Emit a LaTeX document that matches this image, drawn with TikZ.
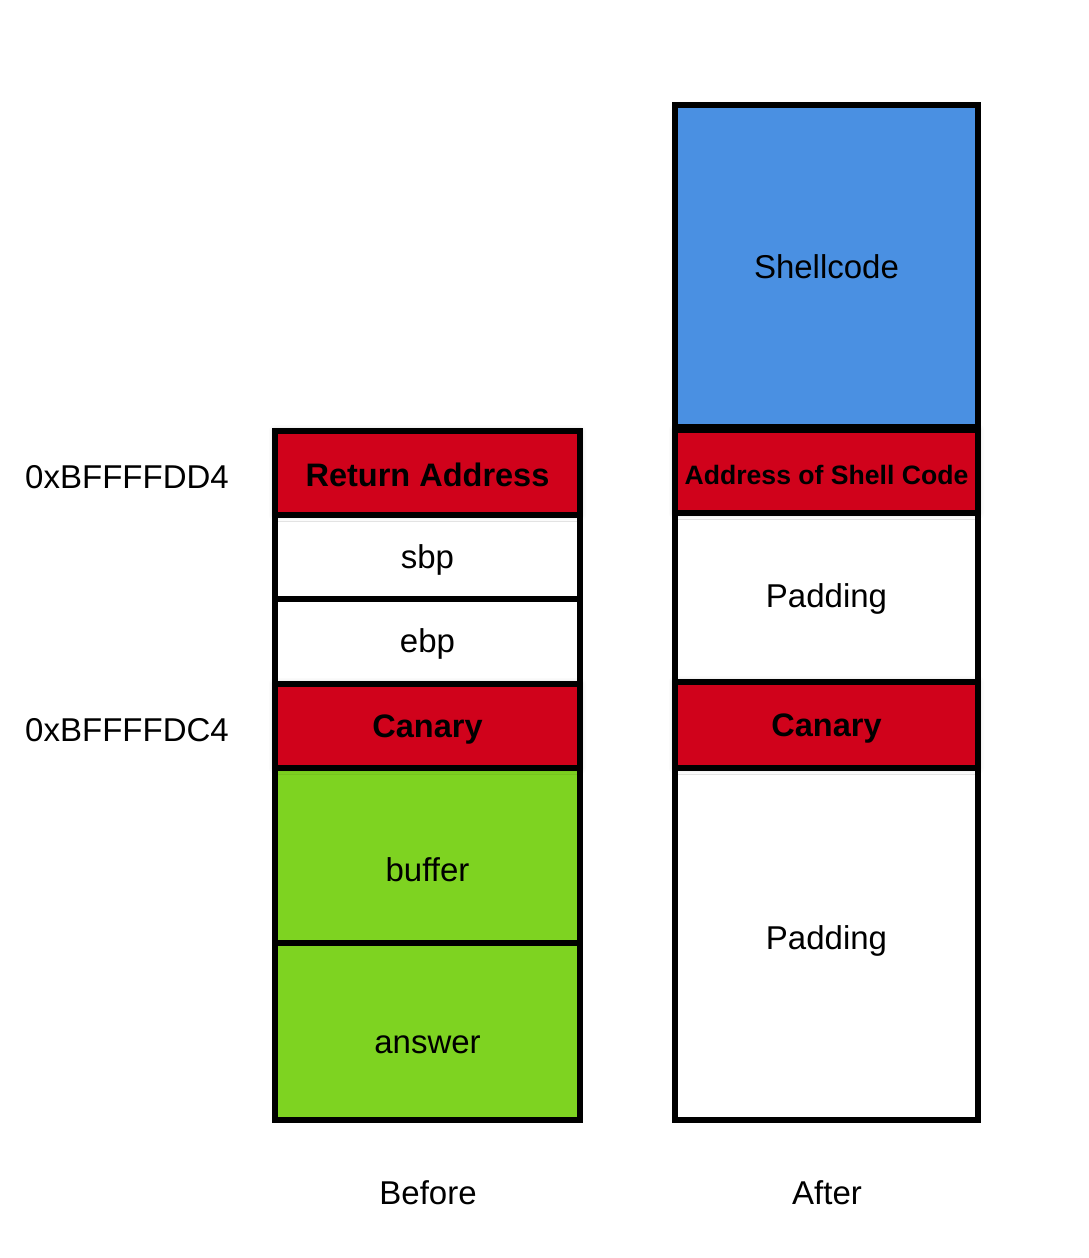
\documentclass[tikz,border=0pt]{standalone}
\usepackage{fontspec}
\setmainfont{Liberation Sans}
\usetikzlibrary{shadows.blur}
\definecolor{cred}{RGB}{208,2,27}
\definecolor{cgreen}{RGB}{126,211,33}
\definecolor{cblue}{RGB}{74,144,226}
\tikzset{
  cell/.style={draw=black, line width=5.5pt, inner sep=0pt, rectangle, fill=white},
  redcell/.style={cell, fill=cred, blur shadow={shadow xshift=0pt, shadow yshift=0pt, shadow blur radius=6pt, shadow opacity=25}},
  lbl/.style={font=\fontsize{33}{33}\selectfont, inner sep=0pt},
  blbl/.style={font=\fontsize{32.5}{32.5}\selectfont\bfseries, inner sep=0pt},
}
\begin{document}
\begin{tikzpicture}[x=1pt,y=-1pt]
\useasboundingbox (0,0) rectangle (1088,1258);
% Before column
\node[cell, minimum width=305pt, minimum height=84pt] (sbp) at (427.5,557) {};
\node[cell, minimum width=305pt, minimum height=85pt] (ebp) at (427.5,641.5) {};
\node[cell, fill=cgreen, minimum width=305pt, minimum height=175pt] (buf) at (427.5,855.5) {};
\node[cell, fill=cgreen, minimum width=305pt, minimum height=177pt] (ans) at (427.5,1031.5) {};
\node[redcell, minimum width=305pt, minimum height=84pt] (ret) at (427.5,473) {};
\node[redcell, minimum width=305pt, minimum height=84pt] (can1) at (427.5,726) {};
% After column
\node[cell, fill=cblue, minimum width=303pt, minimum height=322pt] (shell) at (826.5,266) {};
\node[cell, minimum width=303pt, minimum height=169pt] (pad1) at (826.5,597.5) {};
\node[cell, minimum width=303pt, minimum height=352pt] (pad2) at (826.5,944) {};
\node[redcell, minimum width=303pt, minimum height=83pt] (addr) at (826.5,471.5) {};
\node[redcell, minimum width=303pt, minimum height=86pt] (can2) at (826.5,725) {};
% texts
\node[blbl] (tret) at (427.5,475) {Return Address};
\node[lbl] (tsbp) at (427.5,560) {sbp};
\node[lbl] (tebp) at (427.5,644) {ebp};
\node[blbl] (tcan1) at (427.5,730) {Canary};
\node[lbl] (tbuf) at (427.5,870) {buffer};
\node[lbl] (tans) at (427.5,1045) {answer};
\node[lbl] (tshell) at (826.5,267) {Shellcode};
\node[font=\fontsize{26.6}{26.6}\selectfont\bfseries, inner sep=0pt] (taddr) at (826.5,475) {Address of Shell Code};
\node[lbl] (tpad1) at (826.5,599) {Padding};
\node[blbl] (tcan2) at (826.5,729) {Canary};
\node[lbl] (tpad2) at (826.5,941) {Padding};
\node[lbl] (a1) at (127,477) {0xBFFFFDD4};
\node[lbl] (a2) at (127,730) {0xBFFFFDC4};
\node[lbl] (before) at (428,1193) {Before};
\node[lbl] (after) at (827,1193) {After};
\end{tikzpicture}
\end{document}
